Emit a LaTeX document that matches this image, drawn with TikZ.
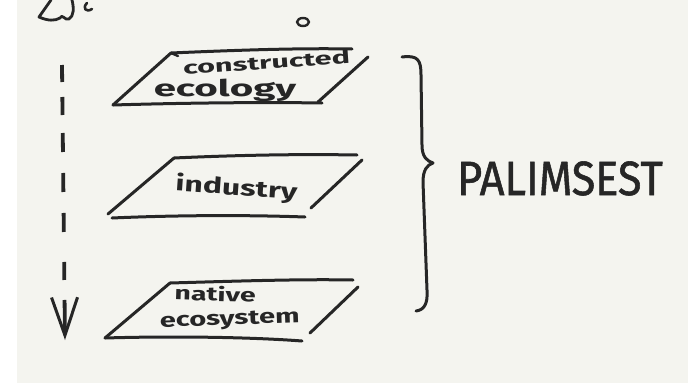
\documentclass[tikz,border=0pt]{standalone}
\usepackage{fontspec}
\usepackage{graphicx}
\setmainfont{Fira Sans}
\newfontfamily\titlefont{Fira Sans}[FakeBold=1.2]
\usetikzlibrary{arrows.meta}

\definecolor{paper}{HTML}{F4F4EF}
\definecolor{ink}{HTML}{262626}

% a word set in the given size, stretched sideways like quick lettering
\newcommand\inkword[3]{{\fontsize{#1}{#1}\selectfont\bfseries\scalebox{#2}[1]{#3}}}

\tikzset{
  pen/.style={draw=ink, line width=3pt, line cap=round, line join=round},
  label/.style={text=ink, inner sep=0pt, anchor=base},
}

\begin{document}
\begin{tikzpicture}[x=1pt, y=-1pt]
  \useasboundingbox (0,0) rectangle (698,383);
  \fill[white] (0,0) rectangle (698,383);
  \fill[paper] (17,0) rectangle (688,383);

  % scribbles along the top edge
  \draw[pen, line width=2.8pt] (51,0) -- (39,17) .. controls (48,21) and (55,21) .. (60,18)
        .. controls (62,13) and (65,21) .. (69,19) .. controls (74,16) and (74,8) .. (72,0);
  \draw[pen, line width=2.6pt] (87,3) .. controls (82,8) and (86,13) .. (92,9);
  \draw[pen, line width=2.4pt] (303,22) ellipse (6pt and 4pt);

  % corners of the three layers
  \coordinate (aTL) at (171,53);  \coordinate (aTR) at (352,49);
  \coordinate (aBL) at (113,105); \coordinate (aBR) at (322,103);
  \coordinate (bTL) at (174,158); \coordinate (bTR) at (357,155);
  \coordinate (bBL) at (108,214); \coordinate (bBR) at (305,217);
  \coordinate (cTL) at (170,283); \coordinate (cTR) at (353,280);
  \coordinate (cBL) at (105,338); \coordinate (cBR) at (302,341);

  % layer: constructed ecology
  \draw[pen] (aTL) .. controls (240,50) and (300,48) .. (aTR);
  \draw[pen] (aTL) -- (aBL);
  \draw[pen] (aBL) .. controls (180,103) and (260,102) .. (aBR);
  \draw[pen] (368,57) -- (318,102);
  \draw[pen, line width=2.4pt] (aTL) -- (178,56);

  % layer: industry
  \draw[pen] (bTL) .. controls (240,155) and (300,154) .. (bTR);
  \draw[pen] (bTL) -- (bBL);
  \draw[pen] (112,218) .. controls (180,215) and (250,215) .. (bBR);
  \draw[pen] (362,160) -- (311,208);

  % layer: native ecosystem
  \draw[pen] (cTL) .. controls (240,281) and (300,279) .. (cTR);
  \draw[pen] (cTL) -- (cBL);
  \draw[pen] (cBL) .. controls (170,336) and (250,337) .. (cBR);
  \draw[pen] (358,287) -- (310,333);

  % layer labels
  \node[label, rotate=4]  (lc) at (267,69)  {\inkword{18}{1.7}{constructed}};
  \node[label]            (le) at (225,96)  {\inkword{23}{1.75}{ecology}};
  \node[label, rotate=-4] (li) at (236,195) {\inkword{22}{1.45}{industry}};
  \node[label, rotate=-2] (ln) at (215,301) {\inkword{19}{1.5}{native}};
  \node[label, rotate=2]  (ls) at (230,325) {\inkword{20}{1.45}{ecosystem}};

  % downward reading direction
  \coordinate (flowTop) at (62,65);
  \coordinate (flowEnd) at (65,340);
  \draw[pen, line width=3.8pt, line cap=butt,
        dash pattern=on 17pt off 15pt on 18pt off 18pt on 19pt off 21pt
                     on 19pt off 21pt on 19pt off 30pt on 18pt off 20pt on 80pt off 10pt,
        -{Straight Barb[length=38pt, width=26pt, line width=3pt]}]
        (flowTop) -- (flowEnd);

  % brace grouping the layers
  \draw[pen] (402,57) .. controls (418,55) and (421,60) .. (421,75)
        -- (422,145) .. controls (422,157) and (427,161) .. (433,163)
        .. controls (427,165) and (423,170) .. (423,182)
        -- (427,290) .. controls (428,304) and (424,310) .. (416,311);

  \node[label] (pal) at (560,195)
    {{\titlefont\fontsize{48}{48}\selectfont\scalebox{0.9}[1]{PALIMSEST}}};
\end{tikzpicture}
\end{document}
